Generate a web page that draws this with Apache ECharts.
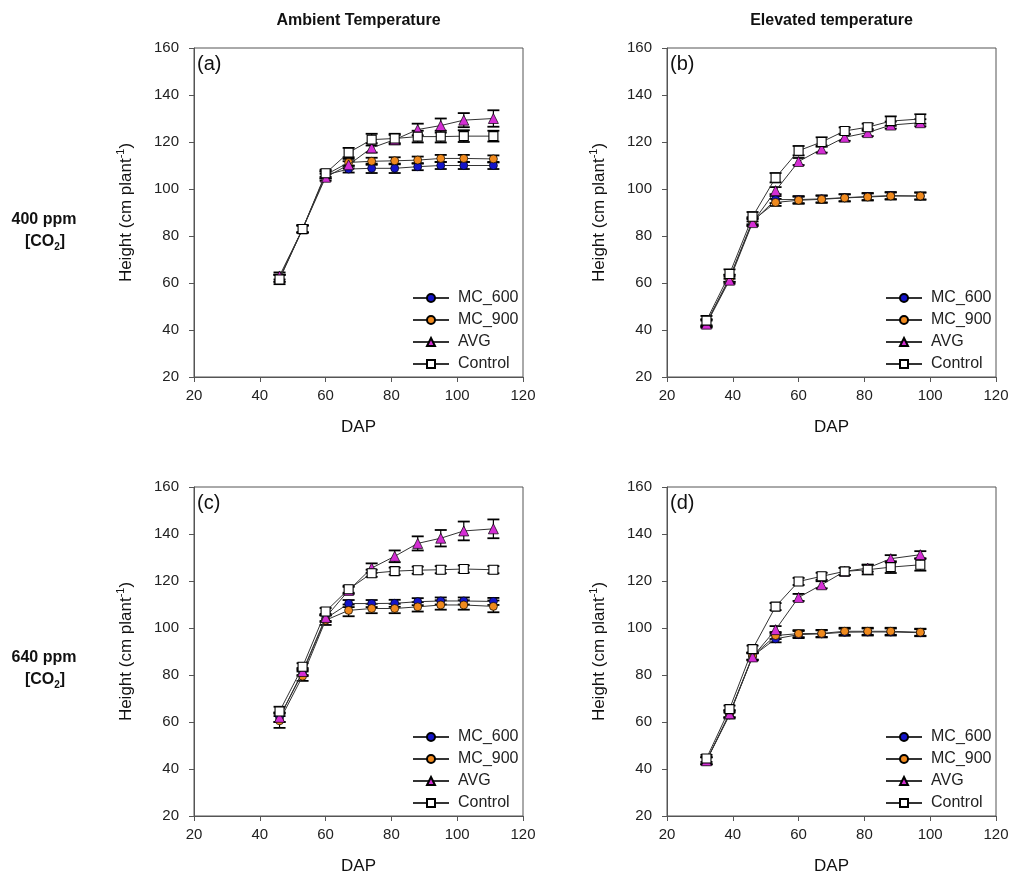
<!DOCTYPE html>
<html>
<head>
<meta charset="utf-8">
<script src="https://cdn.jsdelivr.net/npm/echarts@6/dist/echarts.min.js"></script>
<style>html,body{margin:0;padding:0;background:#fff}#c{width:1012px;height:879px}</style>
</head>
<body>
<div id="c"></div>
<script>
// ---------- DATA ----------
const seriesNames = ['MC_600', 'MC_900', 'AVG', 'Control'];
const xTicks = [20, 40, 60, 80, 100, 120];
const yTicks = [20, 40, 60, 80, 100, 120, 140, 160];
const colTitles = ['Ambient Temperature', 'Elevated temperature'];
const rowLabels = ['400 ppm', '640 ppm'];
const panelLabels = ['(a)', '(b)', '(c)', '(d)'];

const dapAmbient = [46, 53, 60, 67, 74, 81, 88, 95, 102, 111];
const dapElevated = [32, 39, 46, 53, 60, 67, 74, 81, 88, 97];

// (a) 400 ppm, ambient
const a_MC600 = [62, 83, 106, 108.5, 108.8, 108.8, 109.5, 110, 110, 110];
const a_MC900 = [62, 83, 106, 111.3, 111.8, 112, 112.3, 113, 113, 112.8];
const a_AVG = [63, 83, 105, 110.3, 117.5, 121, 125.3, 127, 129.3, 130];
const a_Control = [61.5, 83, 106.7, 115.5, 121, 121.5, 122.3, 122.3, 122.5, 122.5];
const a_MC600_err = [1.5, 1.5, 1.5, 1.5, 2, 2, 1.5, 1.5, 1.5, 1.5];
const a_MC900_err = [1.5, 1.5, 1.5, 1.5, 1.5, 1.5, 1.5, 1.5, 1.5, 1.5];
const a_AVG_err = [1.5, 1.5, 1.5, 1.5, 2, 2, 2.5, 3, 3, 3.5];
const a_Control_err = [2, 1.5, 1.5, 2, 2.5, 2, 2.5, 2.5, 2.5, 2.3];

// (b) 400 ppm, elevated
const b_MC600 = [43, 62, 86, 95.5, 95.5, 95.8, 96.3, 96.8, 97.2, 97];
const b_MC900 = [43, 62, 86.5, 94.3, 95.2, 95.6, 96.2, 96.6, 97, 97];
const b_AVG = [42.5, 61.2, 85.7, 99.3, 111.7, 117, 122, 124, 127.2, 128.2];
const b_Control = [44, 63.8, 88.2, 104.8, 116.3, 120, 124.7, 126.3, 128.9, 129.8];
const b_MC600_err = [1.5, 1.5, 1.5, 1.5, 1.5, 1.5, 1.5, 1.5, 1.5, 1.5];
const b_MC900_err = [1.5, 1.5, 1.5, 1.5, 1.5, 1.5, 1.5, 1.5, 1.5, 1.5];
const b_AVG_err = [1.5, 1.5, 1.5, 1.5, 1.5, 1.5, 1.5, 1.5, 1.5, 1.5];
const b_Control_err = [2, 2, 2, 2, 2, 2, 1.5, 1.5, 2, 2];

// (c) 640 ppm, ambient
const c_MC600 = [62, 81, 104, 110.4, 110.4, 110.5, 111.2, 111.5, 111.5, 111.3];
const c_MC900 = [60.5, 79.5, 103.3, 107.5, 108.3, 108.3, 109, 109.8, 109.8, 109.2];
const c_AVG = [62, 81.5, 104.5, 116, 125.5, 130.5, 136, 138.2, 141.3, 142.2];
const c_Control = [64.5, 83.5, 107, 116.5, 123.3, 124.2, 124.6, 124.8, 125.1, 124.8];
const c_MC600_err = [2, 1.5, 1.5, 1.5, 1.5, 1.5, 1.5, 1.5, 1.5, 1.5];
const c_MC900_err = [3, 2, 2, 2.5, 2, 2, 2, 2, 2, 2.5];
const c_AVG_err = [2, 1.5, 1.5, 1.5, 2, 2.5, 3, 3.5, 4, 4];
const c_Control_err = [2, 1.5, 1.5, 1.5, 1.5, 1.5, 1.5, 1.5, 1.5, 1.5];

// (d) 640 ppm, elevated
const d_MC600 = [43.5, 63, 88, 95.4, 97.2, 97.5, 98.2, 98.3, 98.3, 98];
const d_MC900 = [43.5, 63.5, 88, 96.8, 97.6, 97.7, 98.6, 98.6, 98.6, 98.2];
const d_AVG = [43.5, 63.5, 87.7, 99.3, 113, 118.4, 124.1, 125.5, 129.5, 131.2];
const d_Control = [44.5, 65.5, 91, 109.1, 119.8, 122, 124.1, 124.8, 125.9, 126.9];
const d_MC600_err = [1.5, 1.5, 1.5, 1.5, 1.5, 1.5, 1.5, 1.5, 1.5, 1.5];
const d_MC900_err = [1.5, 1.5, 1.5, 1.5, 1.5, 1.5, 1.5, 1.5, 1.5, 1.5];
const d_AVG_err = [1.5, 1.5, 1.5, 1.5, 1.5, 1.5, 1.5, 1.5, 1.5, 1.5];
const d_Control_err = [1.5, 1.5, 1.5, 1.5, 1.5, 1.5, 1.5, 2, 2.5, 2.5];

// ---------- BUILD ----------
const FONT = 'Liberation Sans, Arial, sans-serif';
const panels = [
  {x: dapAmbient, vals: [a_MC600, a_MC900, a_AVG, a_Control], errs: [a_MC600_err, a_MC900_err, a_AVG_err, a_Control_err]},
  {x: dapElevated, vals: [b_MC600, b_MC900, b_AVG, b_Control], errs: [b_MC600_err, b_MC900_err, b_AVG_err, b_Control_err]},
  {x: dapAmbient, vals: [c_MC600, c_MC900, c_AVG, c_Control], errs: [c_MC600_err, c_MC900_err, c_AVG_err, c_Control_err]},
  {x: dapElevated, vals: [d_MC600, d_MC900, d_AVG, d_Control], errs: [d_MC600_err, d_MC900_err, d_AVG_err, d_Control_err]}
];
const gridPos = [
  {left: 194, top: 48}, {left: 667, top: 48},
  {left: 194, top: 487}, {left: 667, top: 487}
];
const GW = 329, GH = 329;
const markerStyles = [
  {symbol: 'circle', symbolSize: 8, color: '#1414c8'},
  {symbol: 'circle', symbolSize: 8, color: '#f08a1e'},
  {symbol: 'triangle', symbolSize: 10, color: '#d42ed4'},
  {symbol: 'rect', symbolSize: 9, color: '#ffffff'}
];

function renderErr(params, api) {
  const x = api.value(0), lo = api.value(1), hi = api.value(2);
  const p1 = api.coord([x, hi]), p2 = api.coord([x, lo]);
  const w = 6;
  const st = {stroke: '#000', lineWidth: 1.2};
  const cs = {stroke: '#000', lineWidth: 1.8};
  return {type: 'group', children: [
    {type: 'line', shape: {x1: p1[0], y1: p1[1], x2: p2[0], y2: p2[1]}, style: st},
    {type: 'line', shape: {x1: p1[0] - w, y1: p1[1], x2: p1[0] + w, y2: p1[1]}, style: cs},
    {type: 'line', shape: {x1: p2[0] - w, y1: p2[1], x2: p2[0] + w, y2: p2[1]}, style: cs}
  ]};
}

const grids = [], xAxes = [], yAxes = [], series = [], legends = [], graphics = [];
panels.forEach((p, i) => {
  const g = gridPos[i];
  grids.push({left: g.left, top: g.top, width: GW, height: GH, show: true,
    borderColor: '#555', borderWidth: 1, backgroundColor: 'transparent'});
  xAxes.push({type: 'value', gridIndex: i, min: xTicks[0], max: xTicks[xTicks.length - 1], interval: 20,
    name: 'DAP', nameLocation: 'middle', nameGap: 42,
    nameTextStyle: {fontFamily: FONT, fontSize: 17, color: '#111'},
    axisLine: {show: true, lineStyle: {color: '#555', width: 1}},
    axisTick: {show: true, inside: false, length: 5, lineStyle: {color: '#555'}},
    axisLabel: {fontFamily: FONT, fontSize: 15, color: '#222', margin: 11},
    splitLine: {show: false}});
  yAxes.push({type: 'value', gridIndex: i, min: yTicks[0], max: yTicks[yTicks.length - 1], interval: 20,
    name: 'Height (cm plant{s|-1})', nameLocation: 'middle', nameGap: 57,
    nameTextStyle: {fontFamily: FONT, fontSize: 17, color: '#111', lineHeight: 22,
      rich: {s: {fontFamily: FONT, fontSize: 11, color: '#111', lineHeight: 11, verticalAlign: 'top'}}},
    axisLine: {show: true, lineStyle: {color: '#555', width: 1}},
    axisTick: {show: true, inside: false, length: 5, lineStyle: {color: '#555'}},
    axisLabel: {fontFamily: FONT, fontSize: 15, color: '#222', margin: 15},
    splitLine: {show: false}});
  // error bars first (below)
  p.vals.forEach((v, k) => {
    series.push({type: 'custom', name: 'err' + i + k, xAxisIndex: i, yAxisIndex: i, z: 2,
      renderItem: renderErr, silent: true, clip: false,
      encode: {x: 0, y: [1, 2]},
      data: p.x.map((x, j) => [x, v[j] - p.errs[k][j], v[j] + p.errs[k][j]])});
  });
  p.vals.forEach((v, k) => {
    const m = markerStyles[k];
    series.push({type: 'line', name: seriesNames[k], xAxisIndex: i, yAxisIndex: i, z: 3 + k,
      symbol: m.symbol, symbolSize: m.symbolSize, showAllSymbol: true,
      lineStyle: {color: '#333', width: 1},
      itemStyle: {color: m.color, borderColor: '#000', borderWidth: k === 3 ? 1.1 : 0.7},
      emphasis: {disabled: true}, animation: false,
      data: p.x.map((x, j) => [x, v[j]])});
  });
  legends.push({data: seriesNames, orient: 'vertical', left: g.left + 213, top: g.top + 235,
    itemWidth: 36, itemHeight: 10, itemGap: 2, selectedMode: false,
    textStyle: {fontFamily: FONT, fontSize: 16, color: '#222', lineHeight: 20, padding: [0, 0, 0, 4]}});
  graphics.push({type: 'text', left: g.left + 3, top: g.top + 6,
    style: {text: panelLabels[i], fontFamily: FONT, fontSize: 20, fill: '#111'}});
});

// column titles
[0, 1].forEach(c => {
  graphics.push({type: 'text', x: gridPos[c].left + GW / 2, y: 21,
    style: {text: colTitles[c], fontFamily: FONT, fontSize: 16, fontWeight: 'bold', fill: '#111',
      textAlign: 'center', textVerticalAlign: 'middle'}});
});
// row labels
[0, 1].forEach(r => {
  const y0 = r === 0 ? 220 : 658;
  graphics.push({type: 'text', x: 44, y: y0,
    style: {text: rowLabels[r], fontFamily: FONT, fontSize: 16, fontWeight: 'bold', fill: '#111',
      textAlign: 'center', textVerticalAlign: 'middle'}});
  graphics.push({type: 'text', x: 45, y: y0 + 22,
    style: {text: '[CO{s|2}]', fontFamily: FONT, fontSize: 16, fontWeight: 'bold', fill: '#111',
      lineHeight: 20, textAlign: 'center', textVerticalAlign: 'middle',
      rich: {s: {fontFamily: FONT, fontSize: 10, fontWeight: 'bold', fill: '#111', lineHeight: 10, verticalAlign: 'bottom'}}}});
});

const chart = echarts.init(document.getElementById('c'), null, {renderer: 'canvas'});
chart.setOption({
  animation: false,
  backgroundColor: '#fff',
  grid: grids, xAxis: xAxes, yAxis: yAxes, series: series,
  legend: legends, graphic: graphics
});
</script>
</body>
</html>
